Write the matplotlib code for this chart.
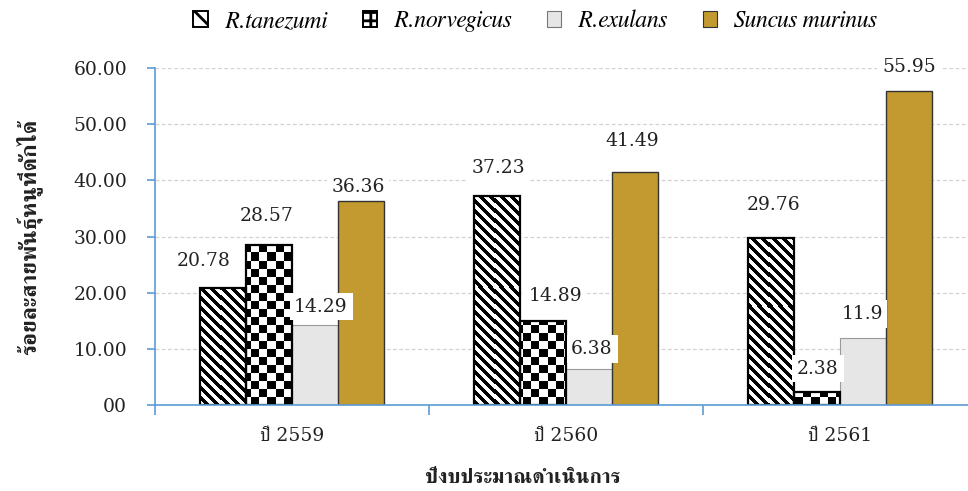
import matplotlib
matplotlib.use("Agg")
import matplotlib.pyplot as plt
import numpy as np
from matplotlib.patches import Patch
from matplotlib.ticker import FuncFormatter, FixedLocator

# ---- data ----
years = ["ปี 2559", "ปี 2560", "ปี 2561"]
species = ["R.tanezumi", "R.norvegicus", "R.exulans", "Suncus murinus"]
tanezumi = [20.78, 37.23, 29.76]
norvegicus = [28.57, 14.89, 2.38]
exulans = [14.29, 6.38, 11.9]
suncus = [36.36, 41.49, 55.95]
y_ticks = [0, 10, 20, 30, 40, 50, 60]

# label nudges in pixels (dx, dy above bar top), one row per species
label_shift = [
    [(-19, 27), (1, 28), (3, 33)],
    [(-2, 29), (13, 25), (1, 23)],
    [(6, 18), (3, 20), (-1, 24)],
    [(-3, 14), (-3, 31), (0, 24)],
]

plt.rcParams["font.family"] = ["DejaVu Serif", "FreeSerif"]

BLUE = "#5B9BD5"
GOLD = "#C39A2F"
GRAY = "#E6E6E6"
INK = "#222222"

W, H, DPI = 968, 491, 100
fig = plt.figure(figsize=(W / DPI, H / DPI), dpi=DPI)
ax_px = (155, 86, 822, 337)  # left, bottom, width, height in pixels
ax = fig.add_axes([ax_px[0] / W, ax_px[1] / H, ax_px[2] / W, ax_px[3] / H])

x = np.arange(len(years))
w = 0.168
offsets = [-1.5 * w, -0.5 * w, 0.5 * w, 1.5 * w]
series = [tanezumi, norvegicus, exulans, suncus]
XLIM, YLIM = (-0.5, 2.5), (0, 60)

bars_t = ax.bar(x + offsets[0], tanezumi, w, facecolor="white", linewidth=0, zorder=2)
bars_n = ax.bar(x + offsets[1], norvegicus, w, facecolor="white", linewidth=0, zorder=2)
ax.bar(x + offsets[2], exulans, w, facecolor=GRAY, edgecolor="#9a9a9a",
       linewidth=0.8, zorder=2)
ax.bar(x + offsets[3], suncus, w, facecolor=GOLD, edgecolor="#333333",
       linewidth=1.0, zorder=2)

# pixel-grid fills: diagonal stripes and checkerboard, clipped to each bar
rows = np.arange(ax_px[3])[:, None]
cols = np.arange(ax_px[2])[None, :]
stripes = ((cols + rows) // 5) % 2
checker = ((cols // 8) + (rows // 8)) % 2
for bars, pattern in [(bars_t, stripes), (bars_n, checker)]:
    for b in bars:
        im = ax.imshow(pattern, extent=(*XLIM, *YLIM), origin="lower", cmap="gray",
                       interpolation="nearest", aspect="auto", zorder=2.5)
        im.set_clip_path(b)
for off, vals in [(offsets[0], tanezumi), (offsets[1], norvegicus)]:
    ax.bar(x + off, vals, w, facecolor="none", edgecolor="black",
           linewidth=1.6, zorder=3)
ax.set_xlim(*XLIM)
ax.set_ylim(*YLIM)

# value labels with white boxes
px2pt = 72 / DPI
for i, vals in enumerate(series):
    for j, v in enumerate(vals):
        dx, dy = label_shift[i][j]
        ax.annotate(f"{v:g}", (x[j] + offsets[i], v),
                    xytext=(dx * px2pt, dy * px2pt), textcoords="offset points",
                    ha="center", va="center", fontsize=13.5, color=INK,
                    bbox=dict(boxstyle="square,pad=0.25", fc="white", ec="none"),
                    zorder=4)

# axes styling
for s in ["top", "right"]:
    ax.spines[s].set_visible(False)
for s in ["left", "bottom"]:
    ax.spines[s].set_color(BLUE)
    ax.spines[s].set_linewidth(1.2)
ax.spines["bottom"].set_zorder(5)

ax.yaxis.set_major_locator(FixedLocator(y_ticks))
ax.yaxis.set_major_formatter(FuncFormatter(lambda v, p: "00" if v == 0 else f"{v:.2f}"))
ax.tick_params(axis="y", direction="out", length=6, width=1.2, color=BLUE,
               pad=14, labelsize=13.5, labelcolor=INK)
ax.yaxis.grid(True, linestyle=(0, (3, 2)), color="#d2d2d2", linewidth=0.9, zorder=0)
ax.set_axisbelow(True)

ax.set_xticks([-0.5, 0.5, 1.5, 2.5])
ax.set_xticklabels([])
ax.set_xticks(x, minor=True)
ax.set_xticklabels(years, minor=True)
ax.tick_params(axis="x", which="major", direction="out", length=7, width=1.2, color=BLUE)
ax.tick_params(axis="x", which="minor", length=0, pad=16, labelsize=13.5,
               labelcolor=INK)

ax.set_ylabel("ร้อยละสายพันธุ์หนูที่ดักได้", fontsize=16.5, fontweight="bold",
              color=INK, family="FreeSerif")
ax.yaxis.set_label_coords(-0.137, 0.5)
fig.text(523 / W, 1 - 478 / H, "ปีงบประมาณดำเนินการ", ha="center", va="center",
         fontsize=15, fontweight="bold", color=INK, family="FreeSerif")

handles = [
    Patch(facecolor="white", edgecolor="black", hatch="\\\\", linewidth=1.4),
    Patch(facecolor="white", edgecolor="black", hatch="++", linewidth=1.4),
    Patch(facecolor=GRAY, edgecolor="#777777", linewidth=0.8),
    Patch(facecolor=GOLD, edgecolor="#333333", linewidth=0.8),
]
plt.rcParams["hatch.linewidth"] = 2.0
fig.legend(handles, species, loc="center", bbox_to_anchor=(535 / W, 1 - 21 / H),
           ncol=4, frameon=False, handlelength=0.62, handleheight=0.62,
           handletextpad=0.72, columnspacing=1.5,
           prop={"family": ["FreeSerif"], "style": "italic", "size": 17})

fig.savefig("out.png", dpi=DPI)
